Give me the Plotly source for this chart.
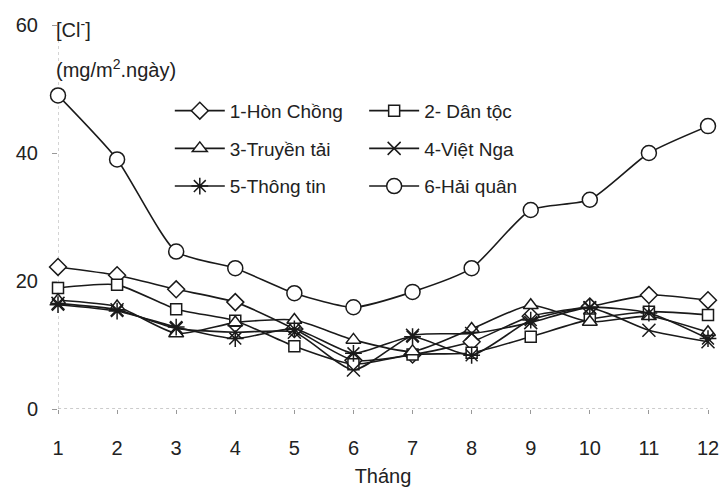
import plotly.graph_objects as go

months = list(range(1, 13))
month_labels = [str(m) for m in months]

hon_chong = [22.2, 20.9, 18.7, 16.7, 12.5, 7.6, 8.5, 10.5, 14.5, 16.0, 17.8, 17.0]
dan_toc = [18.9, 19.4, 15.6, 13.8, 9.8, 7.0, 8.5, 8.8, 11.3, 14.0, 15.2, 14.7]
truyen_tai = [17.0, 16.0, 11.8, 13.5, 13.9, 10.8, 9.0, 12.5, 16.2, 13.6, 14.5, 12.0]
viet_nga = [16.5, 15.5, 12.6, 12.0, 12.0, 6.1, 11.5, 11.8, 13.5, 15.8, 12.3, 10.5]
thong_tin = [16.3, 15.3, 12.8, 11.0, 12.5, 8.7, 11.3, 8.4, 13.9, 15.9, 15.0, 11.0]
hai_quan = [49.0, 39.0, 24.6, 22.0, 18.1, 15.9, 18.3, 22.0, 31.1, 32.7, 40.0, 44.2]

series_names = ["1-Hòn Chồng", "2- Dân tộc", "3-Truyền tải", "4-Việt Nga", "5-Thông tin", "6-Hải quân"]
series_values = [hon_chong, dan_toc, truyen_tai, viet_nga, thong_tin, hai_quan]
series_symbols = ["diamond", "square", "triangle-up", "x-thin", "asterisk", "circle"]
series_sizes = [13, 11, 13, 13, 14, 15]
series_legend = ["legend", "legend2", "legend", "legend2", "legend", "legend2"]

y_ticks = [0, 20, 40, 60]

FONT = "Liberation Sans Narrow, Arial Narrow, Liberation Sans, Arial, sans-serif"
INK = "#1a1a1a"

fig = go.Figure()
for name, vals, sym, sz, lg in zip(series_names, series_values, series_symbols, series_sizes, series_legend):
    fig.add_trace(go.Scatter(
        x=months, y=vals, name=name, mode="lines+markers",
        line=dict(color=INK, width=1.6, shape="spline", smoothing=0.6),
        marker=dict(symbol=sym, size=sz, color="white",
                    line=dict(color=INK, width=1.5)),
        cliponaxis=False, legend=lg, legendgroup=name,
    ))

fig.update_layout(
    width=722, height=487,
    margin=dict(l=58, r=14, t=25, b=78, autoexpand=False),
    paper_bgcolor="white", plot_bgcolor="white",
    font=dict(family=FONT, size=20, color="#222"),
    showlegend=True,
    legend=dict(x=0.172, y=0.826, xanchor="left", yanchor="top",
                bgcolor="rgba(0,0,0,0)", tracegroupgap=10, traceorder="grouped",
                itemwidth=50, font=dict(size=19)),
    legend2=dict(x=0.471, y=0.826, xanchor="left", yanchor="top",
                 bgcolor="rgba(0,0,0,0)", tracegroupgap=10, traceorder="grouped",
                 itemwidth=50, font=dict(size=19)),
    xaxis=dict(range=[1, 12], tickvals=months, ticktext=month_labels,
               showgrid=False, zeroline=False, showline=False, automargin=False,
               ticks="outside", ticklen=4, tickcolor="#999",
               ticklabelstandoff=17,
               title=dict(text="Tháng", standoff=10, font=dict(size=20))),
    yaxis=dict(range=[0, 60], tickvals=y_ticks,
               showgrid=False, zeroline=False, showline=False, automargin=False,
               ticks="outside", ticklen=5, tickcolor="#999",
               ticklabelstandoff=10),
    shapes=[
        dict(type="line", xref="x", yref="y", x0=0.9, x1=12, y0=0, y1=0,
             line=dict(color="#999", width=1, dash="dot"), layer="below"),
        dict(type="line", xref="x", yref="y", x0=1, x1=1, y0=0, y1=60,
             line=dict(color="#aaa", width=1, dash="dot"), layer="below"),
    ],
    annotations=[
        dict(text="[Cl<sup>-</sup>]", xref="paper", yref="paper", x=-0.006, y=0.99,
             xanchor="left", yanchor="middle", showarrow=False, font=dict(size=20)),
        dict(text="(mg/m<sup>2</sup>.ngày)", xref="paper", yref="paper", x=-0.006, y=0.888,
             xanchor="left", yanchor="middle", showarrow=False, font=dict(size=20)),
    ],
)

fig.write_html(
    "out.html",
    config={"displayModeBar": False},
    post_script="document.body.style.margin='0';document.body.style.overflow='hidden';",
)
